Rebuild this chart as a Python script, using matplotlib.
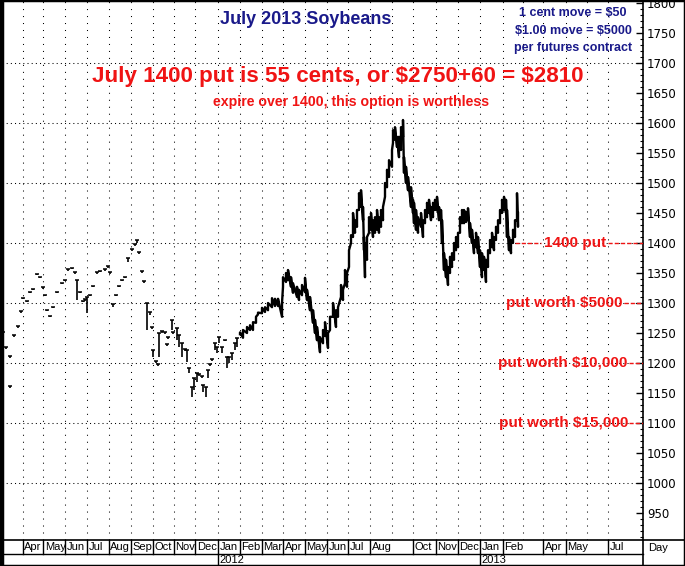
import numpy as np
import matplotlib.pyplot as plt
from matplotlib.lines import Line2D
from matplotlib.patches import Rectangle
from matplotlib.ticker import MultipleLocator
import matplotlib.transforms as mtransforms

plt.rcParams['text.parse_math'] = False

# chart column (trading session) and daily high / low
sess = [3, 6, 10, 10, 14, 18, 21, 23, 27, 30, 33, 37, 40, 43, 45, 47, 50, 53, 57, 62,
        65, 68, 72, 75, 77, 80, 83, 85, 87, 90, 93, 97, 100, 105, 108, 110, 113, 116, 119, 122,
        125, 128, 132, 135, 137, 139, 142, 144,
        147, 150, 152, 153, 156, 158, 159, 162, 165, 167, 168, 172, 173, 177, 179, 182, 185, 187,
        189, 192, 194, 197, 199, 202, 203, 206, 208, 210, 212, 215, 217, 219, 222, 225, 227, 229,
        232, 235, 237,
        240, 243, 247, 250, 253, 256, 258, 262, 265, 268, 272, 275, 278, 282, 283, 286, 288, 291,
        293, 297, 299, 302, 305, 307, 310, 313, 315, 317, 320, 323, 325, 328, 330, 333, 336, 338,
        341, 343, 345, 347, 349, 351, 353, 355, 357, 359, 361, 363, 364, 365, 367, 369, 371, 373,
        375, 377, 379, 381, 383, 385, 387, 389, 392, 393, 395, 397, 399, 401, 403, 404, 406, 408,
        411, 413, 414, 416, 418, 421, 423, 425, 427, 429, 431, 433, 435, 437, 439, 441, 442, 444,
        446, 448, 450, 452, 454, 456, 458, 460, 462, 464, 466, 468, 470, 472, 474, 476, 478, 480,
        482, 484, 486, 488, 490, 492, 494, 496, 498, 500, 502, 504, 506, 507, 509, 511, 513, 515,
        517, 518]
hi = [1252, 1226, 1211, 1161, 1246, 1261, 1286, 1309, 1303, 1318, 1323, 1348, 1343, 1326, 1314, 1289, 1278, 1293, 1318, 1334,
      1339, 1356, 1359, 1351, 1338, 1318, 1303, 1306, 1310, 1314, 1328, 1351, 1353, 1356, 1361, 1351, 1298, 1314, 1328, 1339,
      1344, 1375, 1390, 1398, 1405, 1385, 1353, 1336,
      1300, 1285, 1260, 1222, 1203, 1198, 1250, 1253, 1251, 1231, 1243, 1272, 1251, 1258, 1247, 1233, 1223, 1222,
      1192, 1160, 1175, 1183, 1181, 1178, 1163, 1160, 1188, 1198, 1206, 1233, 1227, 1243, 1227, 1239, 1210, 1210,
      1217, 1233, 1242,
      1251, 1255, 1260, 1263, 1268, 1277, 1284, 1292, 1293, 1300, 1308, 1307, 1307, 1300, 1343, 1350, 1355, 1343,
      1333, 1327, 1322, 1330, 1342, 1322, 1310, 1288, 1272, 1260, 1243, 1255, 1268, 1250, 1277, 1300, 1288, 1293,
      1330, 1322, 1355, 1350, 1388, 1413, 1450, 1438, 1455, 1483, 1488, 1460, 1410, 1400, 1410, 1443, 1450, 1438,
      1443, 1455, 1443, 1455, 1460, 1500, 1522, 1538, 1555, 1588, 1593, 1577, 1577, 1593, 1605, 1543, 1527, 1510,
      1493, 1472, 1467, 1455, 1443, 1450, 1438, 1455, 1467, 1472, 1460, 1467, 1472, 1477, 1460, 1455, 1438, 1383,
      1372, 1360, 1377, 1383, 1400, 1410, 1417, 1443, 1455, 1455, 1452, 1458, 1433, 1422, 1405, 1417, 1410, 1388,
      1383, 1377, 1372, 1388, 1405, 1417, 1410, 1427, 1438, 1455, 1472, 1477, 1472, 1455, 1410, 1405, 1422, 1438,
      1483, 1450]
lo = [1248, 1224, 1209, 1159, 1244, 1259, 1284, 1306, 1301, 1316, 1321, 1346, 1341, 1324, 1312, 1287, 1276, 1291, 1316, 1332,
      1337, 1354, 1357, 1349, 1305, 1316, 1301, 1304, 1283, 1312, 1326, 1349, 1351, 1354, 1359, 1349, 1294, 1312, 1326, 1337,
      1342, 1368, 1386, 1395, 1400, 1381, 1350, 1333,
      1255, 1280, 1256, 1210, 1200, 1195, 1210, 1250, 1248, 1228, 1240, 1255, 1248, 1238, 1227, 1210, 1220, 1202,
      1183, 1143, 1155, 1168, 1178, 1175, 1152, 1143, 1175, 1195, 1203, 1222, 1217, 1233, 1217, 1236, 1192, 1200,
      1205, 1222, 1227,
      1248, 1242, 1250, 1255, 1255, 1267, 1281, 1283, 1285, 1288, 1293, 1295, 1295, 1277, 1327, 1335, 1338, 1327,
      1317, 1310, 1305, 1313, 1318, 1305, 1288, 1267, 1250, 1238, 1218, 1233, 1245, 1225, 1255, 1277, 1260, 1277,
      1310, 1305, 1333, 1327, 1360, 1400, 1410, 1417, 1427, 1455, 1460, 1438, 1388, 1343, 1372, 1417, 1422, 1410,
      1417, 1422, 1417, 1427, 1438, 1477, 1493, 1510, 1527, 1567, 1572, 1560, 1543, 1555, 1577, 1517, 1500, 1488,
      1460, 1450, 1433, 1422, 1417, 1427, 1410, 1433, 1443, 1450, 1438, 1443, 1455, 1455, 1438, 1438, 1400, 1355,
      1343, 1330, 1350, 1360, 1372, 1388, 1393, 1417, 1433, 1433, 1435, 1438, 1410, 1400, 1383, 1393, 1383, 1360,
      1343, 1355, 1335, 1360, 1383, 1393, 1388, 1405, 1417, 1433, 1450, 1455, 1450, 1410, 1388, 1383, 1400, 1410,
      1438, 1427]

# month boundaries (session column)
grid_months = [22.7, 43.3, 65.3, 87.3, 108.7, 130.7, 152.7, 174, 195.3, 218, 240, 262, 283, 305,
               327, 348, 370, 392, 413, 436, 458, 480, 503, 523, 543, 566, 587, 608]
month_pos = [22.7, 43.3, 65.3, 87.3, 108.7, 130.7, 152.7, 174, 195.3, 218, 240, 262, 283, 305,
             327, 348, 370, 413, 436, 458, 480, 503, 543, 566, 608]
month_lab = ['Apr', 'May', 'Jun', 'Jul', 'Aug', 'Sep', 'Oct', 'Nov', 'Dec', 'Jan', 'Feb', 'Mar', 'Apr', 'May',
             'Jun', 'Jul', 'Aug', 'Oct', 'Nov', 'Dec', 'Jan', 'Feb', 'Apr', 'May', 'Jul']
year_pos = [218, 480]
year_lab = ['2012', '2013']

price_ticks = list(range(950, 1801, 50))
price_grid = list(range(1000, 1701, 100))
put_levels = [1400, 1300, 1200, 1100]
put_labels = ['1400 put', 'put worth $5000', 'put worth $10,000', 'put worth $15,000']

W, H = 685, 566
L, R, T, B = 2, 643, 0, 540
navy = '#1a1a8a'
red = '#f01414'

fig = plt.figure(figsize=(W / 100, H / 100), dpi=100)
ax = fig.add_axes([L / W, (H - B) / H, (R - L) / W, (B - T) / H])
ax.set_xlim(L, R)
ax.set_ylim(905, 1805)

for m in grid_months:
    ax.axvline(m, color='k', lw=0.75, ls=(0, (1, 5.7)), zorder=1)
for p in price_grid:
    ax.axhline(p, color='k', lw=0.75, ls=(0, (1, 3)), zorder=1)

s = np.array(sess)
h = np.array(hi)
l = np.array(lo)
thin = s < 240
ax.vlines(s[thin], l[thin], h[thin], color='k', lw=1.2, zorder=3)
ax.plot(s[thin], h[thin], ls='none', marker='_', ms=3, mew=1.1, color='k', zorder=3)
xs = np.repeat(s[~thin], 2)
ys = np.column_stack([l[~thin], h[~thin]]).ravel()
ax.plot(xs, ys, color='k', lw=1.7, zorder=3)

# right-side put levels
put_text_x = [575, 564.5, 563, 564]
put_text_end = [607, 623, 628, 628]
for lev, lab, cx, ex in zip(put_levels, put_labels, put_text_x, put_text_end):
    ax.text(cx, lev, lab, color=red, fontsize=11, fontweight='bold', family='Liberation Sans',
            ha='center', va='center', zorder=5)
    ax.plot([ex + 1, R], [lev, lev], color=red, lw=1, ls=(0, (3, 1.5)), zorder=4)
ax.plot([515, 541], [1400, 1400], color=red, lw=1, ls=(0, (3, 1.5)), zorder=4)

ax.yaxis.tick_right()
ax.set_yticks(price_ticks)
ax.yaxis.set_minor_locator(MultipleLocator(10))
ax.tick_params(axis='y', which='major', direction='in', length=5, width=1, pad=3,
               labelsize=8.5, colors='k')
ax.tick_params(axis='y', which='minor', direction='in', length=2.5, width=0.8)
ax.set_xticks([])
for sp in ['left', 'top', 'bottom']:
    ax.spines[sp].set_visible(False)
ax.spines['right'].set_linewidth(1.2)

# titles
def fy(py):
    return 1 - py / H

fig.text(306 / W, fy(19), 'July 2013 Soybeans', color=navy, fontsize=13, fontweight='bold',
         family='Liberation Sans', ha='center', va='center')
for py, txt in zip([13, 31, 48], ['1 cent move = $50', '$1.00 move = $5000', 'per futures contract']):
    fig.text(573 / W, fy(py), txt, color=navy, fontsize=9, fontweight='bold',
             family='Liberation Sans', ha='center', va='center')
fig.text(338 / W, fy(76), 'July 1400 put is 55 cents, or $2750+60 = $2810', color=red,
         fontsize=16.1, fontweight='bold', family='Liberation Sans', ha='center', va='center')
fig.text(351 / W, fy(102), 'expire over 1400, this option is worthless', color=red,
         fontsize=10.2, fontweight='bold', family='Liberation Sans', ha='center', va='center')

# bottom date rows
bt = mtransforms.blended_transform_factory(ax.transData, fig.transFigure)
row1, row2 = 554, 566
for m, lab in zip(month_pos, month_lab):
    fig.add_artist(Line2D([m, m], [fy(B), fy(row1)], color='k', lw=1, transform=bt))
    fig.text(m + 1.5, fy(547.5), lab, transform=bt, fontsize=8, family='Liberation Sans',
             ha='left', va='center')
for m, lab in zip(year_pos, year_lab):
    fig.add_artist(Line2D([m, m], [fy(row1), fy(row2)], color='k', lw=1, transform=bt))
    fig.text(m + 1.5, fy(560), lab, transform=bt, fontsize=8, family='Liberation Sans',
             ha='left', va='center')
fig.add_artist(Line2D([0, 1], [fy(B), fy(B)], color='k', lw=1.2))
fig.add_artist(Line2D([0, R / W], [fy(row1), fy(row1)], color='k', lw=1))
fig.add_artist(Line2D([R / W, R / W], [fy(B), 0], color='k', lw=1.2))
fig.text(648 / W, fy(548), 'Day', fontsize=8, family='Liberation Sans', ha='left', va='center')

fig.add_artist(Rectangle((0, 0), 1, 1, transform=fig.transFigure, fill=False, ec='k', lw=2.5))
fig.add_artist(Line2D([1.5 / W, 1.5 / W], [0, 1], color='k', lw=2.5))

fig.savefig('out.png', dpi=100)
